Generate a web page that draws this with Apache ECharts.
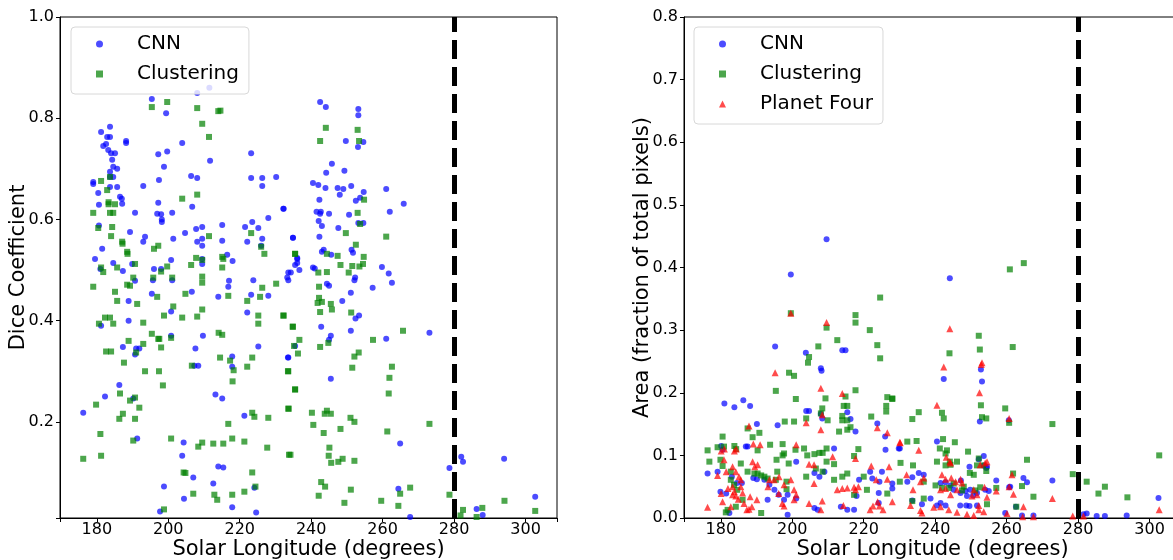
<!DOCTYPE html>
<html><head><meta charset="utf-8">
<script src="https://cdn.jsdelivr.net/npm/echarts@6/dist/echarts.min.js"></script>
<style>html,body{margin:0;padding:0;background:#fff}#c{width:1173px;height:560px}</style>
</head><body><div id="c"></div>
<script>
const xRange = [169.7, 308.8];
const diceRange = [0.01, 1.0];
const areaRange = [0, 0.8];
const cutoffLon = 280;
const xTitle = 'Solar Longitude (degrees)';
const diceTitle = 'Dice Coefficient';
const areaTitle = 'Area (fraction of total pixels)';
const seriesNames = ['CNN', 'Clustering', 'Planet Four'];

const cnnDice = [
[195.4,0.838],[208.1,0.85],[211.5,0.86],[199.4,0.81],[181.2,0.773],[183.7,0.783],[182.9,0.763],[183.7,0.763],[181.8,0.745],[182.6,0.749],[183.2,0.737],[184.0,0.731],[185.1,0.731],[184.3,0.718],[184.6,0.704],[185.7,0.700],[183.7,0.694],[183.7,0.684],[184.6,0.684],[183.7,0.664],[185.7,0.664],[188.2,0.755],[188.2,0.751],[179.0,0.674],[179.0,0.670],[180.4,0.652],[180.6,0.629],[186.5,0.645],[187.0,0.641],[187.1,0.631],[190.7,0.613],[193.0,0.666],[197.2,0.729],[199.7,0.734],[198.8,0.704],[197.4,0.678],[197.2,0.633],[196.9,0.611],[198.0,0.610],[198.2,0.600],[198.2,0.595],[201.1,0.613],[203.9,0.751],[206.4,0.686],[208.1,0.682],[206.7,0.625],[211.7,0.716],[223.2,0.731],[223.2,0.682],[226.3,0.682],[226.3,0.666],[230.2,0.684],[232.2,0.621],[180.6,0.588],[181.5,0.542],[179.5,0.522],[189.3,0.575],[193.0,0.556],[193.5,0.566],[204.7,0.573],[201.4,0.562],[207.8,0.581],[209.5,0.585],[208.1,0.556],[209.5,0.562],[209.5,0.548],[215.1,0.589],[215.1,0.558],[216.5,0.530],[218.0,0.518],[221.5,0.585],[222.1,0.556],[223.5,0.595],[225.2,0.583],[226.3,0.562],[228.0,0.603],[226.0,0.548],[234.9,0.564],[236.1,0.524],[236.1,0.514],[209.5,0.512],[209.5,0.522],[196.0,0.502],[198.0,0.502],[200.8,0.520],[187.3,0.498],[189.9,0.512],[184.6,0.514],[181.0,0.502],
[242.5,0.832],[244.1,0.822],[253.2,0.818],[253.2,0.806],[249.7,0.755],[254.6,0.753],[253.1,0.743],[245.8,0.710],[244.2,0.692],[249.3,0.696],[240.5,0.672],[242.0,0.668],[244.0,0.662],[247.4,0.662],[249.0,0.660],[251.2,0.666],[248.0,0.649],[254.7,0.654],[253.7,0.643],[252.5,0.637],[242.3,0.639],[261.0,0.660],[265.9,0.631],[232.3,0.621],[241.5,0.615],[242.7,0.615],[242.5,0.611],[245.0,0.611],[250.6,0.609],[262.0,0.615],[242.1,0.597],[243.0,0.587],[247.6,0.583],[253.2,0.593],[254.6,0.593],[234.9,0.564],[242.3,0.566],[243.5,0.540],[243.0,0.536],[245.6,0.530],[251.3,0.540],[251.7,0.534],[236.1,0.522],[235.5,0.510],[236.7,0.500],[259.8,0.506],[261.7,0.493],[233.6,0.495],[234.3,0.495],[233.3,0.485],[240.5,0.505],[241.0,0.503],[252.3,0.485],
[190.7,0.479],[195.7,0.480],[201.1,0.480],[217.0,0.479],[223.8,0.480],[233.6,0.480],[195.4,0.453],[188.9,0.439],[206.6,0.457],[214.0,0.447],[216.8,0.467],[223.2,0.451],[228.0,0.449],[200.8,0.418],[222.1,0.416],[188.9,0.400],[181.2,0.390],[200.8,0.370],[209.7,0.370],[187.3,0.348],[191.0,0.345],[191.9,0.345],[207.6,0.345],[190.7,0.333],[208.4,0.311],[207.3,0.311],[217.9,0.329],[217.9,0.309],[225.2,0.349],[233.6,0.327],[186.3,0.273],[182.3,0.250],[213.2,0.254],[215.1,0.246],[176.2,0.218],[190.2,0.246],[221.3,0.212],[191.3,0.167],[204.3,0.159],[203.9,0.133],[214.0,0.112],[215.4,0.110],[207.0,0.090],[212.6,0.078],[198.8,0.072],[224.1,0.070],[204.4,0.048],[217.9,0.031],[197.7,0.023],[224.6,0.021],
[252.1,0.480],[257.2,0.465],[262.6,0.475],[244.4,0.473],[245.0,0.469],[251.1,0.455],[248.7,0.439],[253.4,0.410],[252.4,0.404],[242.8,0.388],[251.1,0.380],[245.5,0.370],[245.0,0.362],[261.0,0.364],[273.1,0.376],[235.5,0.350],[233.5,0.327],[245.5,0.285],[264.9,0.157],[282.0,0.131],[282.5,0.121],[278.7,0.109],[294.0,0.127],[264.4,0.068],[302.7,0.052],[286.3,0.028],[288.0,0.016],[267.7,0.012]
];

const clusterDice = [
[195.4,0.822],[199.7,0.832],[208.1,0.820],[209.5,0.789],[211.4,0.763],[214.0,0.814],[214.6,0.815],[181.2,0.676],[183.7,0.684],[182.9,0.658],[183.3,0.634],[183.3,0.630],[183.7,0.613],[184.6,0.613],[185.1,0.630],[179.0,0.613],[180.4,0.583],[184.3,0.585],[184.0,0.567],[187.1,0.556],[187.2,0.552],[188.5,0.536],[188.6,0.532],[190.7,0.512],[185.7,0.505],[181.2,0.505],[181.8,0.496],[203.9,0.641],[208.1,0.649],[211.4,0.567],[196.0,0.542],[197.2,0.548],[199.7,0.507],[198.0,0.497],[201.1,0.485],[206.4,0.510],[207.8,0.524],[209.5,0.520],[209.5,0.487],[215.1,0.526],[215.1,0.505],[215.4,0.522],[223.2,0.573],[226.0,0.546],[226.9,0.532],[235.5,0.532],[190.2,0.485],[195.8,0.485],
[244.1,0.781],[253.0,0.777],[242.5,0.755],[253.4,0.755],[254.8,0.639],[253.0,0.613],[253.7,0.591],[249.7,0.573],[261.0,0.566],[252.5,0.550],[235.5,0.532],[244.4,0.532],[247.4,0.528],[248.2,0.510],[251.5,0.508],[253.5,0.507],[254.5,0.512],[254.7,0.526],[242.0,0.495],[244.4,0.496],[250.5,0.495],
[179.0,0.467],[185.1,0.457],[185.7,0.439],[188.5,0.471],[189.3,0.469],[191.3,0.433],[196.9,0.447],[204.8,0.453],[209.5,0.475],[201.4,0.428],[209.5,0.422],[216.8,0.449],[222.1,0.439],[225.7,0.447],[226.3,0.465],[230.2,0.473],[180.6,0.394],[182.3,0.406],[183.7,0.406],[184.6,0.394],[193.0,0.396],[198.8,0.410],[203.9,0.406],[208.1,0.408],[225.2,0.410],[225.2,0.394],[232.2,0.410],[234.9,0.388],[195.4,0.374],[197.2,0.364],[197.5,0.364],[200.8,0.366],[214.1,0.376],[215.1,0.372],[182.6,0.339],[184.0,0.339],[188.9,0.360],[193.0,0.354],[198.0,0.347],[191.0,0.337],[187.6,0.317],[193.5,0.300],[197.4,0.300],[206.6,0.311],[214.5,0.327],[217.3,0.321],[218.3,0.302],[218.0,0.280],[222.1,0.309],[223.5,0.327],[233.6,0.300],[235.5,0.264],[198.5,0.272],[186.5,0.256],[179.8,0.234],[189.3,0.242],[190.7,0.248],[191.9,0.228],[186.3,0.206],[187.3,0.216],[190.7,0.206],[216.8,0.196],[223.5,0.218],[224.1,0.210],[228.0,0.208],[233.6,0.226],[181.0,0.176],[190.2,0.163],[200.8,0.167],[208.4,0.151],[209.5,0.159],[212.6,0.157],[215.4,0.157],[217.9,0.167],[221.3,0.161],[227.7,0.149],[233.8,0.135],[176.2,0.127],[181.2,0.133],[204.3,0.100],[204.8,0.099],[223.5,0.100],[224.4,0.072],[207.0,0.058],[212.9,0.056],[213.7,0.046],[217.9,0.056],[221.3,0.062],[198.8,0.027],
[242.2,0.467],[242.2,0.445],[241.8,0.435],[242.5,0.417],[243.0,0.437],[245.5,0.433],[245.8,0.422],[251.2,0.416],[232.3,0.410],[234.8,0.388],[244.8,0.356],[242.5,0.348],[236.7,0.362],[257.3,0.362],[265.7,0.380],[236.3,0.335],[235.2,0.350],[253.3,0.337],[252.1,0.329],[233.5,0.300],[251.5,0.307],[262.6,0.309],[261.9,0.287],[235.5,0.264],[261.7,0.256],[233.7,0.226],[240.2,0.218],[244.4,0.222],[245.5,0.216],[243.8,0.216],[240.6,0.194],[243.5,0.178],[248.2,0.186],[251.0,0.208],[252.1,0.200],[261.3,0.181],[273.1,0.196],[245.1,0.149],[244.9,0.133],[234.2,0.135],[245.6,0.119],[247.6,0.121],[248.8,0.127],[252.1,0.123],[242.8,0.081],[243.9,0.072],[251.1,0.066],[267.7,0.070],[242.1,0.054],[264.9,0.058],[249.3,0.040],[259.6,0.044],[264.4,0.034],[278.7,0.056],[282.5,0.026],[287.9,0.030],[294.1,0.044],[302.7,0.024],[281.8,0.015],[286.3,0.012]
];

const cnnArea = [
[209.6,0.445],[199.6,0.389],[244.1,0.383],
[195.2,0.274],[203.8,0.264],[208.0,0.239],[208.2,0.235],[214.0,0.268],[214.9,0.268],[181.0,0.183],[183.8,0.177],[186.3,0.188],[188.2,0.179],[190.1,0.150],[195.9,0.148],[203.9,0.171],[204.7,0.171],[208.0,0.166],[208.4,0.159],[215.4,0.169],[216.3,0.158],[180.1,0.115],[180.5,0.109],[187.0,0.114],[187.5,0.114],[176.3,0.071],[179.1,0.074],[179.9,0.042],[181.5,0.039],[183.1,0.066],[184.5,0.056],[185.9,0.056],[189.1,0.064],[190.1,0.062],[192.2,0.061],[193.6,0.053],[193.1,0.029],[195.0,0.045],[196.2,0.037],[197.7,0.029],[198.7,0.037],[201.1,0.090],[201.1,0.031],[206.2,0.072],[207.6,0.066],[209.0,0.074],[206.2,0.016],[207.1,0.013],[211.7,0.111],[213.6,0.018],[215.4,0.013],[217.3,0.013],[218.0,0.035],[217.7,0.138],[218.7,0.061],[221.8,0.074],[222.4,0.063],[223.8,0.151],[224.4,0.058],[225.1,0.074],[226.0,0.130],[224.2,0.040],[224.2,0.024],[228.0,0.047],[226.1,0.109],[229.8,0.111],[182.4,0.008],[198.7,0.005],
[242.4,0.222],[252.8,0.237],[253.1,0.218],[252.5,0.154],[260.6,0.156],[230.1,0.111],[240.5,0.122],[249.6,0.082],[253.6,0.099],[252.2,0.094],[253.6,0.084],[235.4,0.072],[236.8,0.069],[232.2,0.058],[233.6,0.065],[228.0,0.055],[257.1,0.060],[260.7,0.049],[261.0,0.050],[264.7,0.064],[265.7,0.057],[272.8,0.060],[254.0,0.045],[255.0,0.043],[254.5,0.082],[254.3,0.080],[241.5,0.056],[242.9,0.057],[244.3,0.052],[245.2,0.045],[247.1,0.040],[247.2,0.060],[248.5,0.043],[250.6,0.036],[249.8,0.045],[248.9,0.035],[251.7,0.040],[238.7,0.031],[240.5,0.020],[241.5,0.024],[242.9,0.020],[247.0,0.020],[248.7,0.020],[249.6,0.019],[251.7,0.020],[236.3,0.022],[233.6,0.028],[262.6,0.018],[259.6,0.008],[282.4,0.007],[285.2,0.003],[287.5,0.003],[293.6,0.004],[302.5,0.032],[281.5,0.006],[264.3,0.004],[267.5,0.004]
];

const clusterArea = [
[264.8,0.407],[260.9,0.397],
[199.6,0.327],[209.6,0.304],[217.7,0.324],[217.7,0.312],[212.6,0.284],[207.3,0.274],[221.7,0.300],[224.6,0.352],[223.8,0.276],[224.6,0.255],[204.7,0.257],[204.4,0.248],[199.1,0.232],[200.5,0.227],[195.4,0.203],[201.0,0.190],[209.3,0.191],[217.7,0.204],[214.9,0.194],[214.4,0.179],[215.4,0.179],[222.1,0.162],[226.6,0.193],[228.0,0.190],[226.3,0.179],[226.3,0.170],[208.4,0.175],[208.0,0.167],[203.9,0.159],[214.0,0.163],[216.3,0.145],[214.0,0.156],[215.4,0.156],[213.1,0.138],[215.4,0.141],[209.9,0.156],[200.5,0.154],[197.9,0.154],[187.5,0.143],[190.8,0.136],[188.9,0.129],[180.5,0.130],[176.3,0.108],[179.1,0.113],[180.9,0.114],[183.8,0.115],[184.3,0.110],[190.3,0.108],[193.8,0.117],[197.3,0.118],[197.7,0.103],[197.3,0.100],[195.6,0.093],[199.0,0.087],[200.9,0.109],[203.3,0.111],[204.2,0.100],[206.2,0.102],[207.6,0.104],[208.5,0.104],[209.6,0.111],[209.6,0.090],[211.7,0.086],[218.5,0.110],[217.3,0.099],[176.8,0.090],[179.9,0.093],[180.5,0.083],[182.8,0.074],[185.6,0.087],[187.5,0.074],[189.4,0.071],[190.3,0.071],[191.3,0.068],[192.2,0.066],[193.1,0.063],[182.8,0.061],[183.7,0.053],[184.6,0.045],[195.8,0.074],[195.4,0.061],[198.4,0.058],[198.4,0.046],[203.9,0.066],[206.6,0.079],[208.5,0.074],[214.0,0.066],[215.4,0.071],[211.7,0.061],[220.0,0.066],[220.9,0.045],[226.6,0.039],[181.9,0.013],[181.4,0.009],[184.2,0.018],[186.1,0.029],[191.3,0.008],[217.3,0.037],[230.3,0.088],
[252.2,0.291],[252.5,0.269],[261.7,0.273],[244.0,0.263],[228.0,0.191],[259.6,0.175],[252.8,0.180],[235.4,0.169],[233.6,0.158],[241.9,0.168],[242.4,0.159],[254.3,0.159],[253.1,0.161],[260.7,0.152],[272.8,0.150],[232.2,0.122],[234.8,0.123],[242.2,0.126],[245.5,0.121],[241.3,0.111],[243.3,0.108],[242.9,0.103],[249.2,0.106],[240.5,0.090],[244.1,0.090],[244.3,0.085],[242.9,0.084],[246.1,0.090],[233.8,0.084],[252.2,0.095],[253.4,0.084],[254.3,0.075],[251.7,0.084],[265.7,0.093],[261.8,0.071],[230.1,0.058],[236.8,0.058],[240.1,0.052],[241.9,0.048],[243.8,0.048],[245.2,0.055],[247.5,0.044],[248.0,0.050],[249.7,0.072],[250.8,0.069],[251.2,0.044],[252.6,0.049],[257.1,0.048],[264.3,0.051],[233.6,0.027],[236.8,0.031],[254.5,0.022],[262.7,0.018],[267.5,0.034],[278.5,0.070],[282.4,0.058],[287.5,0.050],[285.7,0.039],[293.8,0.033],[302.7,0.100]
];

const p4Area = [
[199.6,0.327],[209.6,0.312],[195.2,0.232],[208.0,0.207],[214.0,0.199],[187.9,0.147],[203.9,0.152],[208.0,0.141],[208.4,0.165],[223.8,0.144],[226.6,0.136],[230.2,0.120],[189.1,0.118],[191.0,0.117],[180.1,0.107],[181.0,0.110],[184.3,0.110],[183.8,0.107],[201.1,0.117],[211.3,0.098],[217.7,0.095],[204.7,0.086],[206.1,0.085],[188.9,0.090],[189.5,0.082],[190.3,0.085],[179.1,0.068],[181.5,0.074],[180.9,0.093],[183.3,0.082],[184.2,0.074],[185.1,0.066],[185.6,0.061],[183.3,0.050],[183.8,0.042],[184.2,0.035],[183.3,0.037],[185.6,0.050],[186.1,0.040],[184.9,0.030],[186.5,0.023],[187.3,0.013],[187.9,0.014],[180.5,0.026],[182.8,0.018],[176.3,0.017],[180.1,0.039],[182.0,0.047],[188.2,0.034],[188.7,0.018],[190.1,0.029],[193.2,0.050],[193.6,0.061],[194.9,0.061],[196.3,0.066],[197.7,0.053],[196.2,0.039],[197.2,0.023],[197.7,0.019],[199.6,0.061],[200.5,0.045],[201.1,0.037],[200.5,0.029],[204.7,0.023],[206.1,0.055],[208.4,0.027],[208.0,0.013],[212.6,0.045],[214.0,0.047],[214.3,0.020],[215.4,0.048],[217.3,0.049],[217.7,0.045],[218.5,0.050],[221.8,0.013],[222.1,0.083],[223.5,0.061],[223.9,0.026],[222.6,0.019],[224.4,0.019],[225.4,0.013],[226.6,0.062],[227.1,0.082],[228.0,0.026],
[244.1,0.302],[252.9,0.245],[253.1,0.248],[242.4,0.241],[252.4,0.200],[240.5,0.180],[260.7,0.159],[230.1,0.121],[235.4,0.108],[244.3,0.088],[244.1,0.090],[243.1,0.097],[254.5,0.090],[254.0,0.088],[252.6,0.085],[232.0,0.069],[236.8,0.064],[235.9,0.058],[233.8,0.045],[241.9,0.069],[242.9,0.062],[244.5,0.064],[245.7,0.058],[247.1,0.062],[247.5,0.056],[241.5,0.045],[242.9,0.047],[244.3,0.037],[246.1,0.045],[250.8,0.045],[251.7,0.037],[250.3,0.035],[252.2,0.020],[253.8,0.049],[254.5,0.033],[257.1,0.043],[260.7,0.050],[261.5,0.069],[261.9,0.038],[264.7,0.018],[272.8,0.031],[239.6,0.017],[241.5,0.018],[243.8,0.013],[246.1,0.009],[248.9,0.006],[250.8,0.004],[252.2,0.013],[253.6,0.010],[233.1,0.020],[235.9,0.012],[236.3,0.008],[260.1,0.007],[264.5,0.002],[267.5,0.002],[278.5,0.003],[281.5,0.003],[302.7,0.013]
];

const FONT = 'DejaVu Sans';
const COLORS = {CNN: '#0000ff', Clustering: '#008000', 'Planet Four': '#ff0000'};
const SYMBOLS = {CNN: ['circle', 6], Clustering: ['rect', 6], 'Planet Four': ['triangle', 7]};

function xAxisCfg(gridIndex) {
  return {
    type: 'value', gridIndex, min: xRange[0], max: xRange[1], splitNumber: 7,
    name: xTitle, nameLocation: 'middle', nameGap: 21, nameMoveOverlap: false,
    nameTextStyle: {fontFamily: FONT, fontSize: 21, color: '#000'},
    axisLine: {show: true, onZero: false, lineStyle: {color: '#000', width: 1}},
    axisTick: {show: true, inside: false, length: 4, lineStyle: {color: '#000'}},
    axisLabel: {fontFamily: FONT, fontSize: 16, color: '#000', margin: 4,
      formatter: v => Math.abs(v / 20 - Math.round(v / 20)) < 1e-6 ? String(Math.round(v)) : ''},
    splitLine: {show: false}
  };
}
function yAxisCfg(gridIndex, range, title, gap, step) {
  return {
    type: 'value', gridIndex, min: range[0], max: range[1], splitNumber: Math.round((range[1]-range[0])/step),
    name: title, nameLocation: 'middle', nameGap: gap, nameRotate: 90, nameMoveOverlap: false,
    nameTextStyle: {fontFamily: FONT, fontSize: 21, color: '#000'},
    axisLine: {show: true, onZero: false, lineStyle: {color: '#000', width: 1}},
    axisTick: {show: true, inside: false, length: 4, lineStyle: {color: '#000'}},
    axisLabel: {fontFamily: FONT, fontSize: 16, color: '#000', margin: 6,
      formatter: v => Math.abs(v / step - Math.round(v / step)) < 1e-6 ? v.toFixed(1) : ''},
    splitLine: {show: false}
  };
}
function scatter(name, data, gi, withLine) {
  const s = {
    name, type: 'scatter', xAxisIndex: gi, yAxisIndex: gi, data,
    symbol: SYMBOLS[name][0], symbolSize: SYMBOLS[name][1],
    itemStyle: {color: COLORS[name], opacity: 0.7},
    emphasis: {disabled: true}
  };
  if (withLine) {
    s.markLine = {silent: true, symbol: 'none', animation: false,
      label: {show: false},
      lineStyle: {color: '#000', width: 5, type: [19, 8], opacity: 1},
      emphasis: {disabled: true},
      data: [{xAxis: cutoffLon}]};
  }
  return s;
}
function legendCfg(left, names) {
  return {
    data: names, left, top: 27, orient: 'vertical',
    itemWidth: 7, itemHeight: 7, itemGap: 6,
    padding: [5, 10, 8, 25],
    backgroundColor: 'rgba(255,255,255,0.8)', borderColor: '#d8d8d8', borderWidth: 1, borderRadius: 4,
    selectedMode: false,
    textStyle: {fontFamily: FONT, fontSize: 20, color: '#000', lineHeight: 24, padding: [0, 0, 0, 29]}
  };
}

const chart = echarts.init(document.getElementById('c'), null, {renderer: 'canvas'});
chart.setOption({
  animation: false,
  backgroundColor: '#fff',
  grid: [
    {left: 60, top: 17, width: 497, height: 501, show: true, borderColor: '#000', borderWidth: 1, backgroundColor: 'transparent', containLabel: false, outerBoundsMode: 'none'},
    {left: 684, top: 17, width: 497, height: 501, show: true, borderColor: '#000', borderWidth: 1, backgroundColor: 'transparent', containLabel: false, outerBoundsMode: 'none'}
  ],
  xAxis: [xAxisCfg(0), xAxisCfg(1)],
  yAxis: [yAxisCfg(0, diceRange, diceTitle, 31, 0.2), yAxisCfg(1, areaRange, areaTitle, 31, 0.1)],
  legend: [legendCfg(71, seriesNames.slice(0, 2)), legendCfg(694, seriesNames)],
  series: [
    scatter('CNN', cnnDice, 0, true),
    scatter('Clustering', clusterDice, 0, false),
    scatter('CNN', cnnArea, 1, true),
    scatter('Clustering', clusterArea, 1, false),
    scatter('Planet Four', p4Area, 1, false)
  ]
});
</script></body></html>
